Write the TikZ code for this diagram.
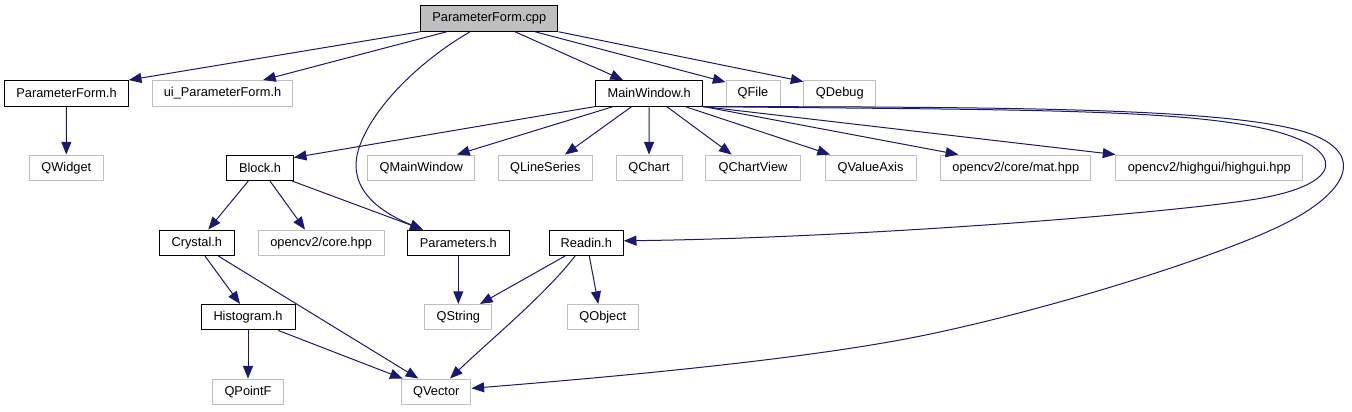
\documentclass[tikz,border=0pt]{standalone}
\usepackage{fontspec}
\setmainfont{Liberation Sans}
\usetikzlibrary{arrows.meta,calc}
\definecolor{edgeblue}{RGB}{25,25,112}
\definecolor{grey75}{RGB}{191,191,191}
\tikzset{
  bw/.style={minimum width=#1*0.75pt},
  basebox/.style={rectangle, line width=0.75pt, minimum height=25.5*0.75pt, inner sep=0pt,
    font=\fontsize{9.6}{11}\selectfont, text=black},
  doc/.style={basebox, draw=black},
  ext/.style={basebox, draw=grey75},
  root/.style={basebox, draw=black, fill=grey75},
  edge/.style={draw=edgeblue, line width=0.75pt, -{Triangle[length=9.5pt,width=7.5pt]}},
}
\begin{document}
\begin{tikzpicture}[x=0.75pt,y=-0.75pt]
\useasboundingbox (0,0) rectangle (1352,411);
% row 0
\node[root,bw=137.3] (cpp) at (489.3,18.5) {ParameterForm.cpp};
% row 1
\node[doc,bw=123.6] (pfh) at (66.5,93.3) {ParameterForm.h};
\node[ext,bw=140.4] (ui) at (222.5,93.3) {ui\_ParameterForm.h};
\node[doc,bw=107] (mw) at (649.2,93.3) {MainWindow.h};
\node[ext,bw=54] (qfile) at (753,93.3) {QFile};
\node[ext,bw=71.7] (qdebug) at (839.8,93.3) {QDebug};
% row 2
\node[ext,bw=74] (qwidget) at (66.3,167.8) {QWidget};
\node[doc,bw=66.6] (block) at (260,167.8) {Block.h};
\node[ext,bw=107.3] (qmw) at (421.3,167.8) {QMainWindow};
\node[ext,bw=94] (qls) at (545.3,167.8) {QLineSeries};
\node[ext,bw=66] (qchart) at (649,167.8) {QChart};
\node[ext,bw=95.4] (qcv) at (753,167.8) {QChartView};
\node[ext,bw=91] (qva) at (870.5,167.8) {QValueAxis};
\node[ext,bw=150.3] (mat) at (1015.8,167.8) {opencv2/core/mat.hpp};
\node[ext,bw=186.7] (highgui) at (1209.3,167.8) {opencv2/highgui/highgui.hpp};
% row 3
\node[doc,bw=75] (crystal) at (196.8,242.8) {Crystal.h};
\node[ext,bw=125.7] (corehpp) at (321.2,242.8) {opencv2/core.hpp};
\node[doc,bw=102] (params) at (458.3,242.8) {Parameters.h};
\node[doc,bw=74] (readin) at (586.3,242.8) {Readin.h};
% row 4
\node[doc,bw=94] (histogram) at (248,317.2) {Histogram.h};
\node[ext,bw=66.7] (qstring) at (458.3,317.2) {QString};
\node[ext,bw=71] (qobject) at (602.8,317.2) {QObject};
% row 5
\node[ext,bw=70.6] (qpointf) at (248,391.8) {QPointF};
\node[ext,bw=69.3] (qvector) at (436.3,391.8) {QVector};

% edges from ParameterForm.cpp
\draw[edge] (cpp.south west) -- (pfh.north east);
\draw[edge] ($(cpp.south)+(-42.6,0)$) -- ($(ui.north)+(40.5,0)$);
\draw[edge] ($(cpp.south)+(-19.3,0)$) .. controls (420,61) and (375,105) .. (360,145)
  .. controls (345,185) and (375,210) .. ($(params.north west)+(16,0)$);
\draw[edge] ($(cpp.south)+(25.7,0)$) -- ($(mw.north)+(-26.2,0)$);
\draw[edge] ($(cpp.south)+(45.7,0)$) -- ($(qfile.north west)+(0,2)$);
\draw[edge] (cpp.south east) -- ($(qdebug.north west)+(0,1.5)$);
% ParameterForm.h
\draw[edge] (pfh.south) -- (qwidget.north);
% MainWindow.h
\draw[edge] (mw.south west) -- ($(block.north east)+(0,3)$);
\draw[edge] ($(mw.south)+(-35.9,0)$) -- ($(qmw.north)+(35.7,0)$);
\draw[edge] ($(mw.south)+(-17.5,0)$) -- ($(qls.north)+(19.7,0)$);
\draw[edge] (mw.south) -- (qchart.north);
\draw[edge] ($(mw.south)+(17.5,0)$) -- ($(qcv.north)+(-21.3,0)$);
\draw[edge] ($(mw.south)+(35.8,0)$) -- ($(qva.north)+(-40.5,0)$);
\draw[edge] (mw.south east) -- ($(mat.north)+(-57.5,0)$);
\draw[edge] (mw.south east) -- (highgui.north west);
\draw[edge] (mw.south east) .. controls (1000,110) and (1180,108) .. (1270,130)
  .. controls (1345,148) and (1350,185) .. (1250,200)
  .. controls (1150,215) and (850,238) .. ($(readin.east)+(0,-2)$);
\draw[edge] (mw.south east) .. controls (1000,107) and (1200,108) .. (1290,128)
  .. controls (1370,146) and (1355,190) .. (1280,226)
  .. controls (1205,262) and (1020,318) .. (900,340)
  .. controls (780,362) and (600,378) .. ($(qvector.east)+(0,-3.5)$);
% Block.h
\draw[edge] ($(block.south)+(-11.7,0)$) -- ($(crystal.north)+(11.5,0)$);
\draw[edge] ($(block.south)+(10,0)$) -- ($(corehpp.north)+(-16.2,0)$);
\draw[edge] ($(block.south east)+(-1.6,0)$) -- ($(params.north west)+(16,0)$);
% Crystal.h
\draw[edge] ($(crystal.south)+(8.2,0)$) -- ($(histogram.north)+(-8,0)$);
\draw[edge] ($(crystal.south)+(21.5,0)$) -- ($(qvector.north)+(-18,0)$);
% Histogram.h
\draw[edge] (histogram.south) -- (qpointf.north);
\draw[edge] ($(histogram.south)+(30.3,0)$) -- ($(qvector.north west)+(1.5,0)$);
% Parameters.h
\draw[edge] (params.south) -- (qstring.north);
% Readin.h
\draw[edge] ($(readin.south)+(-21.3,0)$) -- ($(qstring.north)+(21.7,0)$);
\draw[edge] ($(readin.south)+(-11.3,0)$) .. controls (545,295) and (490,340) .. ($(qvector.north)+(13.7,0)$);
\draw[edge] ($(readin.south)+(3,0)$) -- ($(qobject.north)+(-4.5,0)$);
\end{tikzpicture}
\end{document}
